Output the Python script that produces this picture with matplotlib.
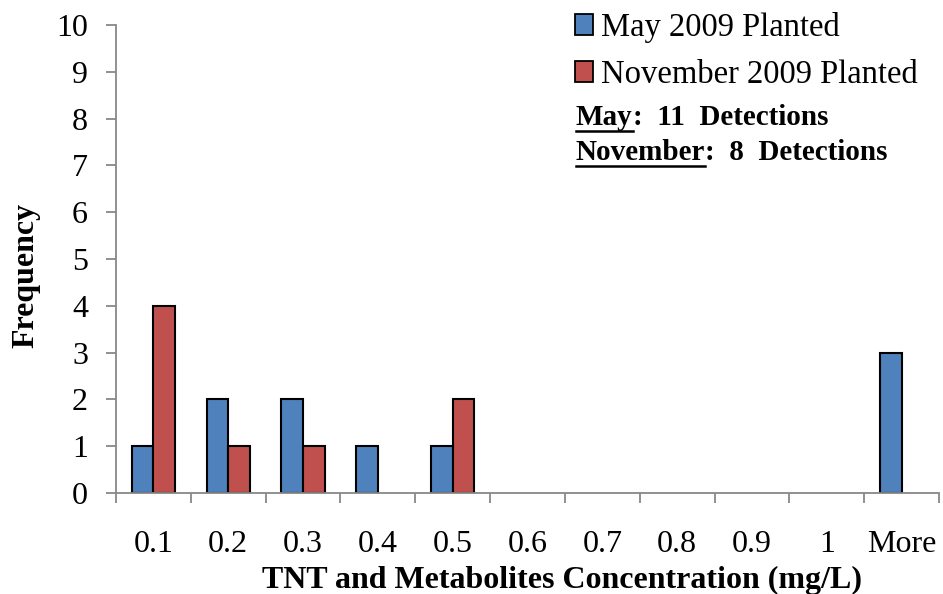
import matplotlib
matplotlib.use("Agg")
import matplotlib.pyplot as plt
from matplotlib.patches import Patch
import numpy as np

categories = ['0.1', '0.2', '0.3', '0.4', '0.5', '0.6', '0.7', '0.8', '0.9', '1', 'More']
may_vals = [1, 2, 2, 1, 1, 0, 0, 0, 0, 0, 3]
nov_vals = [4, 1, 1, 0, 2, 0, 0, 0, 0, 0, 0]
series_names = ['May 2009 Planted', 'November 2009 Planted']
y_ticks = list(range(0, 11))

plt.rcParams['font.family'] = ['Liberation Serif', 'DejaVu Serif']

W, H = 943, 594
fig = plt.figure(figsize=(W / 100, H / 100), dpi=100)
ax = fig.add_axes([116 / W, 1 - 493 / H, (939 - 116) / W, (493 - 25) / H])

blue = '#4F81BD'
red = '#C0504D'
x = np.arange(len(categories))
bw = 0.29
may_lw = [1.5 if v > 0 else 0 for v in may_vals]
nov_lw = [1.5 if v > 0 else 0 for v in nov_vals]
ax.bar(x - bw / 2, may_vals, bw, color=blue, edgecolor='black', linewidth=may_lw, zorder=3)
ax.bar(x + bw / 2, nov_vals, bw, color=red, edgecolor='black', linewidth=nov_lw, zorder=3)

ax.set_xlim(-0.5, len(categories) - 0.5)
ax.set_ylim(0, 10)
ax.set_yticks(y_ticks)
ax.set_yticklabels([str(t) for t in y_ticks], fontsize=23)

# major ticks at category boundaries (marks only), minor at centers (labels only)
ax.set_xticks(np.arange(-0.5, len(categories) + 0.5, 1.0))
ax.set_xticklabels([])
ax.set_xticks(x, minor=True)
ax.set_xticklabels(categories, minor=True, fontsize=23)
ax.tick_params(axis='x', which='major', length=7.2, width=1.3, color='#888888', direction='out')
ax.tick_params(axis='x', which='minor', length=0, pad=27)
ax.tick_params(axis='y', length=7.2, width=1.3, color='#888888', direction='out', pad=13)

for s in ['top', 'right']:
    ax.spines[s].set_visible(False)
for s in ['left', 'bottom']:
    ax.spines[s].set_color('#888888')
    ax.spines[s].set_linewidth(1.3)
ax.spines['bottom'].set_zorder(4)

fig.text(562 / W, 1 - 588 / H, 'TNT and Metabolites Concentration (mg/L)', ha='center', va='baseline',
         fontsize=23, fontweight='bold')
fig.text(26 / W, 1 - 275 / H, 'Frequency', ha='center', va='center', rotation=90,
         fontsize=23, fontweight='bold')

handles = [Patch(facecolor=blue, edgecolor='black', linewidth=1.3),
           Patch(facecolor=red, edgecolor='black', linewidth=1.3)]
leg = ax.legend(handles, series_names, loc='upper left', bbox_to_anchor=(575 / W, 1 - 12 / H),
                bbox_transform=fig.transFigure, frameon=False, fontsize=23.5,
                handlelength=0.55, handleheight=0.6, handletextpad=0.25, labelspacing=0.5,
                borderaxespad=0, borderpad=0)

# Detection annotations with underlined words
fig.canvas.draw()
renderer = fig.canvas.get_renderer()
lines = [('May', ':  11  Detections', 125), ('November', ':  8  Detections', 160)]
for word, rest, ybase in lines:
    t1 = fig.text(576 / W, 1 - ybase / H, word, ha='left', va='baseline', fontsize=21, fontweight='bold')
    bb = t1.get_window_extent(renderer=renderer)
    fig.text(bb.x1 / W, 1 - ybase / H, rest, ha='left', va='baseline', fontsize=21, fontweight='bold')
    yline = 1 - (ybase + 6) / H
    fig.add_artist(plt.Line2D([bb.x0 / W, bb.x1 / W], [yline, yline], color='black', linewidth=1.8,
                              transform=fig.transFigure))

fig.savefig('out.png', dpi=100)
